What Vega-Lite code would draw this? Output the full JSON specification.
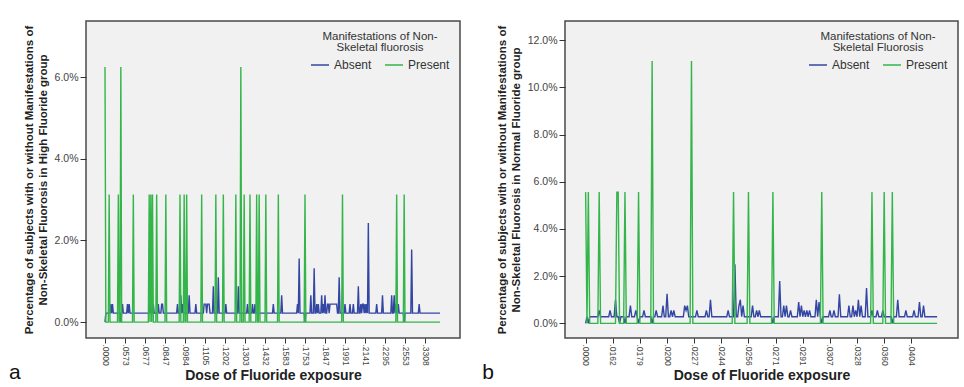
{
"$schema":"https://vega.github.io/schema/vega-lite/v6.json",
"padding":{"left":8,"top":20,"right":0,"bottom":0},
"background":"white",
"spacing":20,
"datasets":{
"a":[
{"i":0,"Absent":0,"Present":6.25},{"i":1,"Absent":0.22,"Present":0},{"i":4,"Absent":0.22,"Present":0},{"i":5,"Absent":0.22,"Present":3.125},{"i":6,"Absent":0.22,"Present":0},{"i":7,"Absent":0.44,"Present":0},{"i":8,"Absent":0.22,"Present":0},{"i":9,"Absent":0.44,"Present":0},{"i":10,"Absent":0.22,"Present":0},
{"i":15,"Absent":0.22,"Present":0},{"i":16,"Absent":0.22,"Present":3.125},{"i":17,"Absent":0.22,"Present":0},{"i":18,"Absent":0.22,"Present":0},{"i":19,"Absent":0,"Present":6.25},{"i":20,"Absent":0.22,"Present":0},{"i":21,"Absent":0.44,"Present":0},{"i":22,"Absent":0.22,"Present":0},
{"i":26,"Absent":0.22,"Present":0},{"i":27,"Absent":0.44,"Present":0},{"i":28,"Absent":0.22,"Present":0},{"i":29,"Absent":0.44,"Present":0},{"i":30,"Absent":0.22,"Present":0},{"i":33,"Absent":0.22,"Present":0},{"i":34,"Absent":0.22,"Present":3.125},{"i":35,"Absent":0.22,"Present":0},
{"i":52,"Absent":0.22,"Present":0},{"i":53,"Absent":0.22,"Present":3.125},{"i":54,"Absent":0.44,"Present":0},{"i":55,"Absent":0.22,"Present":3.125},{"i":56,"Absent":0.22,"Present":0},{"i":57,"Absent":0.22,"Present":3.125},{"i":58,"Absent":0.44,"Present":0},{"i":59,"Absent":0.22,"Present":0},
{"i":61,"Absent":0.22,"Present":0},{"i":62,"Absent":0.22,"Present":3.125},{"i":63,"Absent":0.22,"Present":0},{"i":64,"Absent":0.44,"Present":0},{"i":65,"Absent":0.22,"Present":0},{"i":67,"Absent":0.22,"Present":0},{"i":68,"Absent":0.44,"Present":0},{"i":69,"Absent":0.44,"Present":0},{"i":70,"Absent":0.22,"Present":0},
{"i":72,"Absent":0.22,"Present":0},{"i":73,"Absent":0.22,"Present":3.125},{"i":74,"Absent":0.22,"Present":0},{"i":86,"Absent":0.22,"Present":0},{"i":87,"Absent":0.44,"Present":0},{"i":88,"Absent":0.22,"Present":0},{"i":89,"Absent":0.22,"Present":0},{"i":90,"Absent":0.22,"Present":3.125},{"i":91,"Absent":0.66,"Present":0},{"i":92,"Absent":0.22,"Present":0},{"i":93,"Absent":0.44,"Present":0},{"i":94,"Absent":0.22,"Present":0},{"i":95,"Absent":0.22,"Present":3.125},{"i":96,"Absent":0.22,"Present":0},{"i":97,"Absent":0.22,"Present":0},{"i":98,"Absent":0.22,"Present":3.125},{"i":99,"Absent":0.22,"Present":0},{"i":100,"Absent":0.22,"Present":0},{"i":101,"Absent":0.66,"Present":0},{"i":102,"Absent":0.22,"Present":0},
{"i":108,"Absent":0.22,"Present":0},{"i":109,"Absent":0.44,"Present":0},{"i":110,"Absent":0.22,"Present":0},{"i":115,"Absent":0.22,"Present":0},{"i":116,"Absent":0.22,"Present":3.125},{"i":117,"Absent":0.22,"Present":0},{"i":118,"Absent":0.22,"Present":0},{"i":119,"Absent":0.44,"Present":0},{"i":120,"Absent":0.44,"Present":0},{"i":121,"Absent":0.44,"Present":0},{"i":122,"Absent":0.22,"Present":0},{"i":123,"Absent":0.44,"Present":0},{"i":124,"Absent":0.44,"Present":0},{"i":125,"Absent":0.44,"Present":0},{"i":126,"Absent":0.22,"Present":0},
{"i":129,"Absent":0.22,"Present":0},{"i":130,"Absent":0.88,"Present":0},{"i":131,"Absent":0.22,"Present":0},{"i":132,"Absent":0.22,"Present":0},{"i":133,"Absent":0.22,"Present":3.125},{"i":134,"Absent":0.22,"Present":0},{"i":135,"Absent":0.22,"Present":0},{"i":136,"Absent":1.1,"Present":0},{"i":137,"Absent":0.22,"Present":0},
{"i":141,"Absent":0.22,"Present":0},{"i":142,"Absent":0.22,"Present":3.125},{"i":143,"Absent":0.22,"Present":0},{"i":144,"Absent":0.22,"Present":0},{"i":145,"Absent":0.44,"Present":0},{"i":146,"Absent":0.22,"Present":0},
{"i":156,"Absent":0.22,"Present":0},{"i":157,"Absent":0.22,"Present":3.125},{"i":158,"Absent":0.22,"Present":0},{"i":159,"Absent":0.22,"Present":0},{"i":160,"Absent":0.88,"Present":0},{"i":161,"Absent":0.22,"Present":0},{"i":162,"Absent":0.22,"Present":0},{"i":163,"Absent":0.22,"Present":6.25},{"i":164,"Absent":0.22,"Present":0},
{"i":166,"Absent":0.22,"Present":0},{"i":167,"Absent":0.22,"Present":3.125},{"i":168,"Absent":0.22,"Present":0},{"i":170,"Absent":0.22,"Present":0},{"i":171,"Absent":0.44,"Present":0},{"i":172,"Absent":0.22,"Present":0},{"i":173,"Absent":0.22,"Present":0},{"i":174,"Absent":0.22,"Present":3.125},{"i":175,"Absent":0.22,"Present":0},{"i":176,"Absent":0.22,"Present":0},{"i":177,"Absent":0.44,"Present":0},{"i":178,"Absent":0.22,"Present":0},{"i":179,"Absent":0.22,"Present":0},{"i":180,"Absent":0.44,"Present":0},{"i":181,"Absent":0.22,"Present":0},{"i":182,"Absent":0.22,"Present":3.125},{"i":183,"Absent":0.22,"Present":0},{"i":184,"Absent":0.22,"Present":0},{"i":185,"Absent":0.22,"Present":3.125},{"i":186,"Absent":0.22,"Present":0},
{"i":192,"Absent":0.22,"Present":0},{"i":193,"Absent":0.22,"Present":3.125},{"i":194,"Absent":0.22,"Present":0},{"i":201,"Absent":0.22,"Present":0},{"i":202,"Absent":0.44,"Present":0},{"i":203,"Absent":0.22,"Present":0},{"i":207,"Absent":0.22,"Present":0},{"i":208,"Absent":0.22,"Present":3.125},{"i":209,"Absent":0.22,"Present":0},{"i":211,"Absent":0.22,"Present":0},{"i":212,"Absent":0.66,"Present":0},{"i":213,"Absent":0.22,"Present":0},
{"i":230,"Absent":0.22,"Present":0},{"i":231,"Absent":0.44,"Present":0},{"i":232,"Absent":0.22,"Present":0},{"i":233,"Absent":1.56,"Present":0},{"i":234,"Absent":0.22,"Present":0},{"i":239,"Absent":0.22,"Present":0},{"i":240,"Absent":0,"Present":3.125},{"i":241,"Absent":0.22,"Present":0},
{"i":246,"Absent":0.22,"Present":0},{"i":247,"Absent":0.66,"Present":0},{"i":248,"Absent":0.22,"Present":0},{"i":250,"Absent":0.22,"Present":0},{"i":251,"Absent":1.32,"Present":0},{"i":252,"Absent":0.22,"Present":0},{"i":253,"Absent":0.22,"Present":0},{"i":254,"Absent":0.44,"Present":0},{"i":255,"Absent":0.22,"Present":0},{"i":256,"Absent":0.44,"Present":0},{"i":257,"Absent":0.22,"Present":0},{"i":259,"Absent":0.22,"Present":0},{"i":260,"Absent":0.66,"Present":0},{"i":261,"Absent":0.22,"Present":0},{"i":262,"Absent":0.44,"Present":0},{"i":263,"Absent":0.22,"Present":0},{"i":264,"Absent":0.66,"Present":0},{"i":265,"Absent":0.22,"Present":0},{"i":266,"Absent":0.22,"Present":0},{"i":267,"Absent":0.44,"Present":0},{"i":268,"Absent":0.44,"Present":0},{"i":269,"Absent":0.22,"Present":0},{"i":270,"Absent":0.44,"Present":0},{"i":278,"Absent":0.44,"Present":0},{"i":279,"Absent":0.22,"Present":0},{"i":280,"Absent":0.22,"Present":0},{"i":281,"Absent":1.1,"Present":0},{"i":282,"Absent":0.22,"Present":0},
{"i":284,"Absent":0.22,"Present":0},{"i":285,"Absent":0.22,"Present":3.125},{"i":286,"Absent":0.22,"Present":0},{"i":287,"Absent":0.22,"Present":0},{"i":288,"Absent":0.44,"Present":0},{"i":289,"Absent":0.22,"Present":0},{"i":293,"Absent":0.22,"Present":0},{"i":294,"Absent":0.44,"Present":0},{"i":295,"Absent":0.22,"Present":0},{"i":297,"Absent":0.22,"Present":0},{"i":298,"Absent":0.44,"Present":0},{"i":299,"Absent":0.22,"Present":0},
{"i":303,"Absent":0.22,"Present":0},{"i":304,"Absent":0.88,"Present":0},{"i":305,"Absent":0.22,"Present":0},{"i":306,"Absent":0.22,"Present":0},{"i":307,"Absent":0.44,"Present":0},{"i":308,"Absent":0.22,"Present":0},{"i":309,"Absent":0.44,"Present":0},{"i":310,"Absent":0.44,"Present":0},{"i":311,"Absent":0.22,"Present":0},{"i":312,"Absent":0.44,"Present":0},{"i":313,"Absent":0.22,"Present":0},{"i":314,"Absent":0.44,"Present":0},{"i":315,"Absent":0.22,"Present":0},{"i":316,"Absent":2.43,"Present":0},{"i":317,"Absent":0.22,"Present":0},
{"i":325,"Absent":0.22,"Present":0},{"i":326,"Absent":0.44,"Present":0},{"i":327,"Absent":0.22,"Present":0},{"i":332,"Absent":0.22,"Present":0},{"i":333,"Absent":0.66,"Present":0},{"i":334,"Absent":0.22,"Present":0},{"i":343,"Absent":0.22,"Present":0},{"i":344,"Absent":0.66,"Present":0},{"i":345,"Absent":0.22,"Present":0},{"i":346,"Absent":0.22,"Present":0},{"i":347,"Absent":0.66,"Present":0},{"i":348,"Absent":0.22,"Present":0},{"i":349,"Absent":0.44,"Present":0},{"i":350,"Absent":0.22,"Present":3.125},{"i":351,"Absent":0.22,"Present":0},{"i":352,"Absent":0.44,"Present":0},{"i":353,"Absent":0.22,"Present":0},
{"i":358,"Absent":0.22,"Present":0},{"i":359,"Absent":0,"Present":3.125},{"i":360,"Absent":0.22,"Present":0},{"i":367,"Absent":0.22,"Present":0},{"i":368,"Absent":1.78,"Present":0},{"i":369,"Absent":0.22,"Present":0},{"i":376,"Absent":0.22,"Present":0},{"i":377,"Absent":0.44,"Present":0},{"i":378,"Absent":0.22,"Present":0},{"i":402,"Absent":0.22,"Present":0}
],
"b":[
{"i":0,"Absent":0,"Present":5.56},{"i":1,"Absent":0.28,"Present":0},{"i":2,"Absent":0,"Present":5.56},{"i":3,"Absent":0.28,"Present":0},{"i":9,"Absent":0.28,"Present":0},{"i":10,"Absent":0.55,"Present":5.56},{"i":11,"Absent":0.28,"Present":0},{"i":17,"Absent":0.28,"Present":0},{"i":18,"Absent":0.55,"Present":0},{"i":19,"Absent":0.28,"Present":0},
{"i":21,"Absent":0.28,"Present":0},{"i":22,"Absent":1.0,"Present":0},{"i":23,"Absent":0.28,"Present":5.56},{"i":24,"Absent":0.28,"Present":5.56},{"i":25,"Absent":0,"Present":0},{"i":26,"Absent":0.28,"Present":0},{"i":28,"Absent":0.28,"Present":0},{"i":29,"Absent":0,"Present":5.56},{"i":30,"Absent":0.28,"Present":0},
{"i":32,"Absent":0.28,"Present":0},{"i":33,"Absent":0.75,"Present":0},{"i":34,"Absent":0.28,"Present":0},{"i":36,"Absent":0.28,"Present":0},{"i":37,"Absent":0.55,"Present":0},{"i":38,"Absent":0.28,"Present":0},{"i":39,"Absent":0,"Present":5.56},{"i":40,"Absent":0.28,"Present":0},{"i":42,"Absent":0.28,"Present":0},{"i":43,"Absent":0.55,"Present":0},{"i":44,"Absent":0.28,"Present":0},
{"i":48,"Absent":0.28,"Present":0},{"i":49,"Absent":0,"Present":11.11},{"i":50,"Absent":0.28,"Present":0},{"i":51,"Absent":0.28,"Present":0},{"i":52,"Absent":0.55,"Present":0},{"i":53,"Absent":0.28,"Present":0},{"i":56,"Absent":0.28,"Present":0},{"i":57,"Absent":0.75,"Present":0},{"i":58,"Absent":0.28,"Present":0},{"i":59,"Absent":0.28,"Present":0},{"i":60,"Absent":1.25,"Present":0},{"i":61,"Absent":0.28,"Present":0},{"i":62,"Absent":0.28,"Present":0},{"i":63,"Absent":0.55,"Present":0},{"i":64,"Absent":0.28,"Present":0},{"i":65,"Absent":0.55,"Present":0},{"i":66,"Absent":0.28,"Present":0},
{"i":72,"Absent":0.28,"Present":0},{"i":73,"Absent":0.75,"Present":0},{"i":74,"Absent":0.55,"Present":0},{"i":75,"Absent":0.75,"Present":0},{"i":76,"Absent":0.28,"Present":0},{"i":77,"Absent":0.28,"Present":0},{"i":78,"Absent":0.28,"Present":11.11},{"i":79,"Absent":0.28,"Present":0},{"i":81,"Absent":0.28,"Present":0},{"i":82,"Absent":0.55,"Present":0},{"i":83,"Absent":0.28,"Present":0},{"i":88,"Absent":0.28,"Present":0},{"i":89,"Absent":0.55,"Present":0},{"i":90,"Absent":0.28,"Present":0},{"i":91,"Absent":0.28,"Present":0},{"i":92,"Absent":1.0,"Present":0},{"i":93,"Absent":0.28,"Present":0},
{"i":104,"Absent":0.28,"Present":0},{"i":105,"Absent":0.55,"Present":0},{"i":106,"Absent":0.28,"Present":0},{"i":108,"Absent":0.28,"Present":0},{"i":109,"Absent":0.28,"Present":5.56},{"i":110,"Absent":2.5,"Present":0},{"i":111,"Absent":0.28,"Present":0},{"i":112,"Absent":0.28,"Present":0},{"i":113,"Absent":0.75,"Present":0},{"i":114,"Absent":1.0,"Present":0},{"i":115,"Absent":0.28,"Present":0},{"i":116,"Absent":0.75,"Present":0},{"i":117,"Absent":0.28,"Present":0},
{"i":119,"Absent":0.28,"Present":0},{"i":120,"Absent":0.28,"Present":5.56},{"i":121,"Absent":0.28,"Present":0},{"i":122,"Absent":0.28,"Present":0},{"i":123,"Absent":0.75,"Present":0},{"i":124,"Absent":0.28,"Present":0},{"i":125,"Absent":0.28,"Present":0},{"i":126,"Absent":0.55,"Present":0},{"i":127,"Absent":0.28,"Present":0},{"i":128,"Absent":0.55,"Present":0},{"i":129,"Absent":0.28,"Present":0},
{"i":137,"Absent":0.28,"Present":0},{"i":138,"Absent":0,"Present":5.56},{"i":139,"Absent":0.28,"Present":0},{"i":142,"Absent":0.28,"Present":0},{"i":143,"Absent":1.79,"Present":0},{"i":144,"Absent":0.28,"Present":0},{"i":145,"Absent":0.28,"Present":0},{"i":146,"Absent":0.75,"Present":0},{"i":147,"Absent":0.28,"Present":0},{"i":148,"Absent":0.75,"Present":0},{"i":149,"Absent":0.28,"Present":0},{"i":150,"Absent":0.28,"Present":0},{"i":151,"Absent":0.55,"Present":0},{"i":152,"Absent":0.28,"Present":0},
{"i":156,"Absent":0.28,"Present":0},{"i":157,"Absent":0.9,"Present":0},{"i":158,"Absent":0.28,"Present":0},{"i":159,"Absent":0.75,"Present":0},{"i":160,"Absent":0.28,"Present":0},{"i":161,"Absent":0.55,"Present":0},{"i":162,"Absent":0.28,"Present":0},{"i":163,"Absent":0.55,"Present":0},{"i":164,"Absent":0.28,"Present":0},{"i":165,"Absent":0.55,"Present":0},{"i":166,"Absent":0.28,"Present":0},
{"i":169,"Absent":0.28,"Present":0},{"i":170,"Absent":1.0,"Present":0},{"i":171,"Absent":0.28,"Present":0},{"i":172,"Absent":0.9,"Present":0},{"i":173,"Absent":0.28,"Present":0},{"i":174,"Absent":0,"Present":5.56},{"i":175,"Absent":0.28,"Present":0},
{"i":179,"Absent":0.28,"Present":0},{"i":180,"Absent":0.55,"Present":0},{"i":181,"Absent":0.28,"Present":0},{"i":182,"Absent":0.28,"Present":0},{"i":183,"Absent":0.55,"Present":0},{"i":184,"Absent":0.28,"Present":0},{"i":186,"Absent":0.28,"Present":0},{"i":187,"Absent":1.23,"Present":0},{"i":188,"Absent":0.28,"Present":0},
{"i":193,"Absent":0.28,"Present":0},{"i":194,"Absent":0.75,"Present":0},{"i":195,"Absent":0.28,"Present":0},{"i":196,"Absent":0.28,"Present":0},{"i":197,"Absent":0.75,"Present":0},{"i":198,"Absent":0.28,"Present":0},{"i":199,"Absent":0.55,"Present":0},{"i":200,"Absent":0.28,"Present":0},{"i":201,"Absent":1.0,"Present":0},{"i":202,"Absent":0.28,"Present":0},{"i":203,"Absent":0.75,"Present":0},{"i":204,"Absent":0.28,"Present":0},{"i":206,"Absent":0.28,"Present":0},{"i":207,"Absent":1.5,"Present":0},{"i":208,"Absent":0.28,"Present":0},
{"i":210,"Absent":0.28,"Present":0},{"i":211,"Absent":0.55,"Present":5.56},{"i":212,"Absent":0.28,"Present":0},{"i":214,"Absent":0.28,"Present":0},{"i":215,"Absent":0.55,"Present":0},{"i":216,"Absent":0.28,"Present":0},{"i":218,"Absent":0.28,"Present":0},{"i":219,"Absent":0.55,"Present":0},{"i":220,"Absent":0.28,"Present":5.56},{"i":221,"Absent":0.28,"Present":0},
{"i":225,"Absent":0.28,"Present":0},{"i":226,"Absent":0,"Present":5.56},{"i":227,"Absent":0.28,"Present":0},{"i":229,"Absent":0.28,"Present":0},{"i":230,"Absent":1.0,"Present":0},{"i":231,"Absent":0.28,"Present":0},{"i":235,"Absent":0.28,"Present":0},{"i":236,"Absent":0.55,"Present":0},{"i":237,"Absent":0.28,"Present":0},{"i":241,"Absent":0.28,"Present":0},{"i":242,"Absent":0.55,"Present":0},{"i":243,"Absent":0.28,"Present":0},{"i":245,"Absent":0.28,"Present":0},{"i":246,"Absent":0.9,"Present":0},{"i":247,"Absent":0.28,"Present":0},{"i":248,"Absent":0.28,"Present":0},{"i":249,"Absent":0.75,"Present":0},{"i":250,"Absent":0.28,"Present":0},{"i":259,"Absent":0.28,"Present":0}
]
},
"hconcat":[
{
"width":374,"height":317,
"data":{"name":"a"},
"title":{"text":"a","orient":"bottom","anchor":"start","frame":"bounds","fontSize":21,"fontWeight":"normal","color":"#111","offset":-20,"dx":-14},
"transform":[{"fold":["Absent","Present"],"as":["s","v"]}],
"mark":{"type":"line","strokeWidth":1.4,"clip":true},
"encoding":{
"x":{"field":"i","type":"quantitative","scale":{"domain":[-22.8,426],"nice":false,"zero":false},
"axis":{"values":[0,24,48,72,96,120,144,168,192,216,240,264,288,312,336,360,384],"labelExpr":"['.0000','.0573','.0677','.0847','.0984','.1105','.1202','.1303','.1432','.1583','.1753','.1847','.1991','.2141','.2295','.2553','.3308'][round(datum.value/24)]","labelAngle":90,"title":"Dose of Fluoride exposure"}},
"y":{"field":"v","type":"quantitative","scale":{"domain":[-0.39,7.38],"nice":false,"zero":false},
"axis":{"values":[0,2,4,6],"labelExpr":"format(datum.value,'.1f')+'%'","title":["Percentage of subjects with or without Manifestations of","Non-Skeletal Fluorosis in High Fluoride group"]}},
"color":{"field":"s","type":"nominal","scale":{"domain":["Absent","Present"],"range":["#3346a3","#33b54a"]},
"legend":{"title":["Manifestations of Non-","Skeletal fluorosis"]}}
}
},
{
"width":393,"height":317,
"data":{"name":"b"},
"title":{"text":"b","orient":"bottom","anchor":"start","frame":"bounds","fontSize":21,"fontWeight":"normal","color":"#111","offset":-20,"dx":-14},
"transform":[{"fold":["Absent","Present"],"as":["s","v"]}],
"mark":{"type":"line","strokeWidth":1.4,"clip":true},
"encoding":{
"x":{"field":"i","type":"quantitative","scale":{"domain":[-15.2,274.4],"nice":false,"zero":false},
"axis":{"values":[0,20,40,60,80,100,120,140,160,180,200,220,240],"labelExpr":"['.0000','.0162','.0179','.0200','.0227','.0244','.0256','.0271','.0291','.0307','.0328','.0360','.0404'][round(datum.value/20)]","labelAngle":90,"title":"Dose of Fluoride exposure"}},
"y":{"field":"v","type":"quantitative","scale":{"domain":[-0.62,12.81],"nice":false,"zero":false},
"axis":{"values":[0,2,4,6,8,10,12],"labelExpr":"format(datum.value,'.1f')+'%'","title":["Percentage of subjects with or without Manifestations of","Non-Skeletal Fluorosis in Normal Fluoride group"]}},
"color":{"field":"s","type":"nominal","scale":{"domain":["Absent","Present"],"range":["#3346a3","#33b54a"]},
"legend":{"title":["Manifestations of Non-","Skeletal Fluorosis"]}}
}
}
],
"resolve":{"scale":{"color":"independent","x":"independent","y":"independent"},"legend":{"color":"independent"}},
"config":{
"font":"Liberation Sans",
"view":{"fill":"#f1f1f1","stroke":"#4a4a4a","strokeWidth":1.5},
"axis":{"grid":false,"domain":false,"tickColor":"#333","tickSize":6,"tickWidth":1,"labelFont":"Liberation Sans","labelFontSize":10.5,"labelColor":"#444","labelPadding":2,"titleFont":"Liberation Sans","titleFontWeight":"bold","titleColor":"#222"},
"axisY":{"titleFontSize":11.5,"titleLineHeight":14,"titlePadding":6},
"axisX":{"titleFontSize":14,"titlePadding":3,"labelFontSize":8.5,"labelPadding":1,"tickSize":5},
"legend":{"orient":"top-right","direction":"horizontal","offset":10,"padding":0,"symbolType":"stroke","symbolSize":324,"symbolStrokeWidth":1.5,"labelFontSize":12,"labelColor":"#333","titleFontSize":11.5,"titleFontWeight":"normal","titleColor":"#333","titleAnchor":"middle","titleAlign":"center","titleLineHeight":10.5,"titlePadding":2,"columnPadding":10,"labelOffset":4}
}
}
